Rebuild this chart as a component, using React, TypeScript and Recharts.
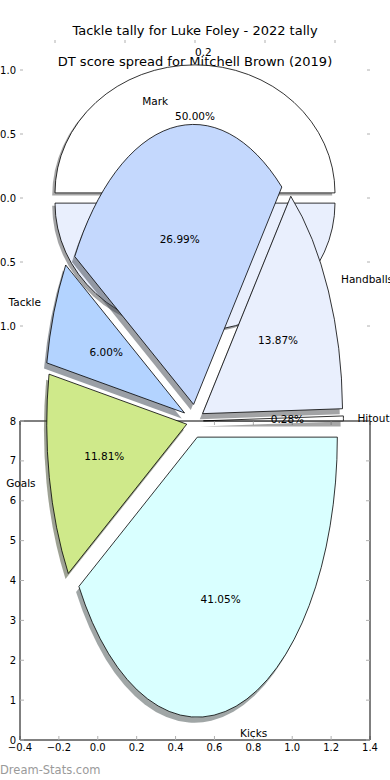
import React from 'react';
import { ComposedChart, Pie, PieChart, XAxis, YAxis } from 'recharts';

const W = 390;
const H = 780;
const FONT = 'DejaVu Sans, sans-serif';

// Luke Foley tackle tally (front pie)
const statNames = ['Hitout', 'Handballs', 'Mark', 'Tackle', 'Goals', 'Kicks'];
const statShares = [0.28, 13.87, 26.99, 6.0, 11.81, 41.05];
const statExplode = [0.06, 0.06, 0.06, 0.08, 0.06, 0.06];
const statColors = ['#ffffff', '#e9effd', '#c4d8fd', '#b3d3ff', '#cfe98a', '#d9ffff'];

// Mitchell Brown DT spread (half pie behind)
const halfNames = ['0.2', '0.8'];
const halfShares = [50, 50];
const halfExplode = [0.04, 0.04];
const halfColors = ['#ffffff', '#e9effd'];

// axis ticks
const backTicks = [-1, -0.5, 0, 0.5, 1];
const frameXTicks = [-0.4, -0.2, 0, 0.2, 0.4, 0.6, 0.8, 1.0, 1.2, 1.4];
const frameYTicks = [0, 1, 2, 3, 4, 5, 6, 7, 8];

const statData = statNames.map((name, i) => ({ name, value: statShares[i] }));
const halfData = halfNames.map((name, i) => ({ name, value: halfShares[i] }));
const backRows = backTicks.map((v) => ({ v }));
const frameRows = frameXTicks.map((v) => ({ v }));

const fmt = (d: number) => (v: number) => v.toFixed(d).replace('-', '\u2212');
const tickText = { fontSize: 10, fontFamily: FONT, fill: '#000' };
const tickLn = { stroke: '#b0b0b0' };

type Geo = { ratio: number; explode: number[]; colors: string[] };
const statGeo: Geo = { ratio: 2, explode: statExplode, colors: statColors };
const halfGeo: Geo = { ratio: 128 / 140, explode: halfExplode, colors: halfColors };

const toRad = (a: number) => (a * Math.PI) / 180;

const shifted = (p: any, g: Geo) => {
  const rx = p.outerRadius;
  const ry = rx * g.ratio;
  const m = toRad(p.midAngle);
  const e = g.explode[p.index];
  return { x: p.cx + e * rx * Math.cos(m), y: p.cy - e * ry * Math.sin(m), rx, ry, m };
};

const wedgeD = (x: number, y: number, rx: number, ry: number, a1: number, a2: number) => {
  const x1 = x + rx * Math.cos(toRad(a1));
  const y1 = y - ry * Math.sin(toRad(a1));
  const x2 = x + rx * Math.cos(toRad(a2));
  const y2 = y - ry * Math.sin(toRad(a2));
  const large = a2 - a1 > 180 ? 1 : 0;
  return `M${x},${y}L${x1},${y1}A${rx},${ry} 0 ${large} 0 ${x2},${y2}Z`;
};

const shade = (hex: string) => {
  const n = parseInt(hex.slice(1), 16);
  const c = [(n >> 16) & 255, (n >> 8) & 255, n & 255].map((v) => Math.round(v * 0.3));
  return `rgb(${c.join(',')})`;
};

const shadowLabel = (g: Geo) => (p: any) => {
  const s = shifted(p, g);
  return (
    <path
      d={wedgeD(s.x - 0.02 * s.rx, s.y + 0.02 * s.ry, s.rx, s.ry, p.startAngle, p.endAngle)}
      fill={shade(g.colors[p.index])}
      fillOpacity={0.5}
      stroke="none"
    />
  );
};

const wedgeLabel = (g: Geo) => (p: any) => {
  const s = shifted(p, g);
  return (
    <path
      d={wedgeD(s.x, s.y, s.rx, s.ry, p.startAngle, p.endAngle)}
      fill={g.colors[p.index]}
      stroke="#000"
      strokeWidth={0.8}
    />
  );
};

const textLabel = (g: Geo) => (p: any) => {
  const s = shifted(p, g);
  const c = Math.cos(s.m);
  const sn = Math.sin(s.m);
  const lx = s.x + 1.1 * s.rx * c;
  const dx = lx - p.cx;
  // straight up reads left-aligned, straight down right-aligned
  const anchor = Math.abs(dx) < 0.01 ? (sn > 0 ? 'start' : 'end') : dx > 0 ? 'start' : 'end';
  return (
    <g fontFamily={FONT} fontSize={10.5} fill="#000">
      <text x={s.x + 0.6 * s.rx * c} y={s.y - 0.6 * s.ry * sn} textAnchor="middle" dominantBaseline="central">
        {(p.percent * 100).toFixed(2)}%
      </text>
      <text x={lx} y={s.y - 1.1 * s.ry * sn} textAnchor={anchor} dominantBaseline="central">
        {p.name}
      </text>
    </g>
  );
};

const layer: React.CSSProperties = { position: 'absolute', left: 0, top: 0 };

export default function App() {
  return (
    <div style={{ position: 'absolute', left: 0, top: 0, width: W, height: H, background: '#fff', overflow: 'hidden' }}>
      {/* tick marks of the axes behind the half pie */}
      <div style={layer}>
        <ComposedChart width={W} height={H} data={backRows} margin={{ top: 30, right: 0, bottom: 424, left: 0 }}>
          <XAxis
            dataKey="v"
            type="number"
            orientation="top"
            height={10}
            domain={[-1.25, 1.25]}
            allowDataOverflow
            ticks={backTicks}
            interval={0}
            tickFormatter={() => ''}
            axisLine={false}
            tickLine={tickLn}
            tickSize={-3}
          />
          <YAxis
            type="number"
            width={20}
            domain={[-1.234375, 1.234375]}
            allowDataOverflow
            ticks={backTicks}
            tickFormatter={fmt(1)}
            tick={tickText}
            axisLine={false}
            tickLine={tickLn}
            tickSize={-3}
            tickMargin={7}
            interval={0}
          />
          <YAxis
            yAxisId="r"
            type="number"
            orientation="right"
            width={20}
            domain={[-1.234375, 1.234375]}
            allowDataOverflow
            ticks={backTicks}
            interval={0}
            tickFormatter={() => ''}
            axisLine={false}
            tickLine={tickLn}
            tickSize={-3}
          />
        </ComposedChart>
      </div>

      {/* framed axes at the bottom */}
      <div style={layer}>
        <ComposedChart width={W} height={H} data={frameRows} margin={{ top: 411, right: 0, bottom: 0, left: 0 }}>
          <XAxis
            dataKey="v"
            type="number"
            height={40}
            domain={[-0.4, 1.4]}
            allowDataOverflow
            ticks={frameXTicks}
            tickFormatter={fmt(1)}
            tick={tickText}
            axisLine={{ stroke: '#000' }}
            tickLine={tickLn}
            tickSize={-4}
            tickMargin={8}
            interval={0}
          />
          <XAxis
            xAxisId="t"
            dataKey="v"
            type="number"
            orientation="top"
            height={10}
            domain={[-0.4, 1.4]}
            allowDataOverflow
            ticks={frameXTicks}
            interval={0}
            tickFormatter={() => ''}
            axisLine={{ stroke: '#000' }}
            tickLine={tickLn}
            tickSize={-4}
          />
          <YAxis
            type="number"
            width={20}
            domain={[0, 8]}
            allowDataOverflow
            ticks={frameYTicks}
            tick={tickText}
            axisLine={{ stroke: '#000' }}
            tickLine={tickLn}
            tickSize={-4}
            tickMargin={8}
            interval={0}
          />
          <YAxis
            yAxisId="r"
            type="number"
            orientation="right"
            width={20}
            domain={[0, 8]}
            allowDataOverflow
            ticks={frameYTicks}
            interval={0}
            tickFormatter={() => ''}
            axisLine={{ stroke: '#000' }}
            tickLine={tickLn}
            tickSize={-4}
          />
        </ComposedChart>
      </div>

      {/* both pies and titles */}
      <div style={layer}>
        <PieChart width={W} height={H} margin={{ top: 0, right: 0, bottom: 0, left: 0 }}>
          <text x={195} y={30} textAnchor="middle" dominantBaseline="central" fontFamily={FONT} fontSize={13} fill="#000">
            Tackle tally for Luke Foley - 2022 tally
          </text>
          <Pie data={halfData} dataKey="value" cx={195} cy={198} outerRadius={140} startAngle={0} endAngle={360}
            fill="none" stroke="none" labelLine={false} label={shadowLabel(halfGeo)} isAnimationActive={false} />
          <Pie data={halfData} dataKey="value" cx={195} cy={198} outerRadius={140} startAngle={0} endAngle={360}
            fill="none" stroke="none" labelLine={false} label={wedgeLabel(halfGeo)} isAnimationActive={false} />
          <Pie data={halfData} dataKey="value" cx={195} cy={198} outerRadius={140} startAngle={0} endAngle={360}
            fill="none" stroke="none" labelLine={false} label={textLabel(halfGeo)} isAnimationActive={false} />
          <text x={195} y={61} textAnchor="middle" dominantBaseline="central" fontFamily={FONT} fontSize={13} fill="#000">
            DT score spread for Mitchell Brown (2019)
          </text>
          <Pie data={statData} dataKey="value" cx={195} cy={421} outerRadius={140} startAngle={0} endAngle={360}
            fill="none" stroke="none" labelLine={false} label={shadowLabel(statGeo)} isAnimationActive={false} />
          <Pie data={statData} dataKey="value" cx={195} cy={421} outerRadius={140} startAngle={0} endAngle={360}
            fill="none" stroke="none" labelLine={false} label={wedgeLabel(statGeo)} isAnimationActive={false} />
          <Pie data={statData} dataKey="value" cx={195} cy={421} outerRadius={140} startAngle={0} endAngle={360}
            fill="none" stroke="none" labelLine={false} label={textLabel(statGeo)} isAnimationActive={false} />
          <text x={0} y={774} fontFamily={FONT} fontSize={11.5} fill="#9a9a9a">
            Dream-Stats.com
          </text>
        </PieChart>
      </div>
    </div>
  );
}
